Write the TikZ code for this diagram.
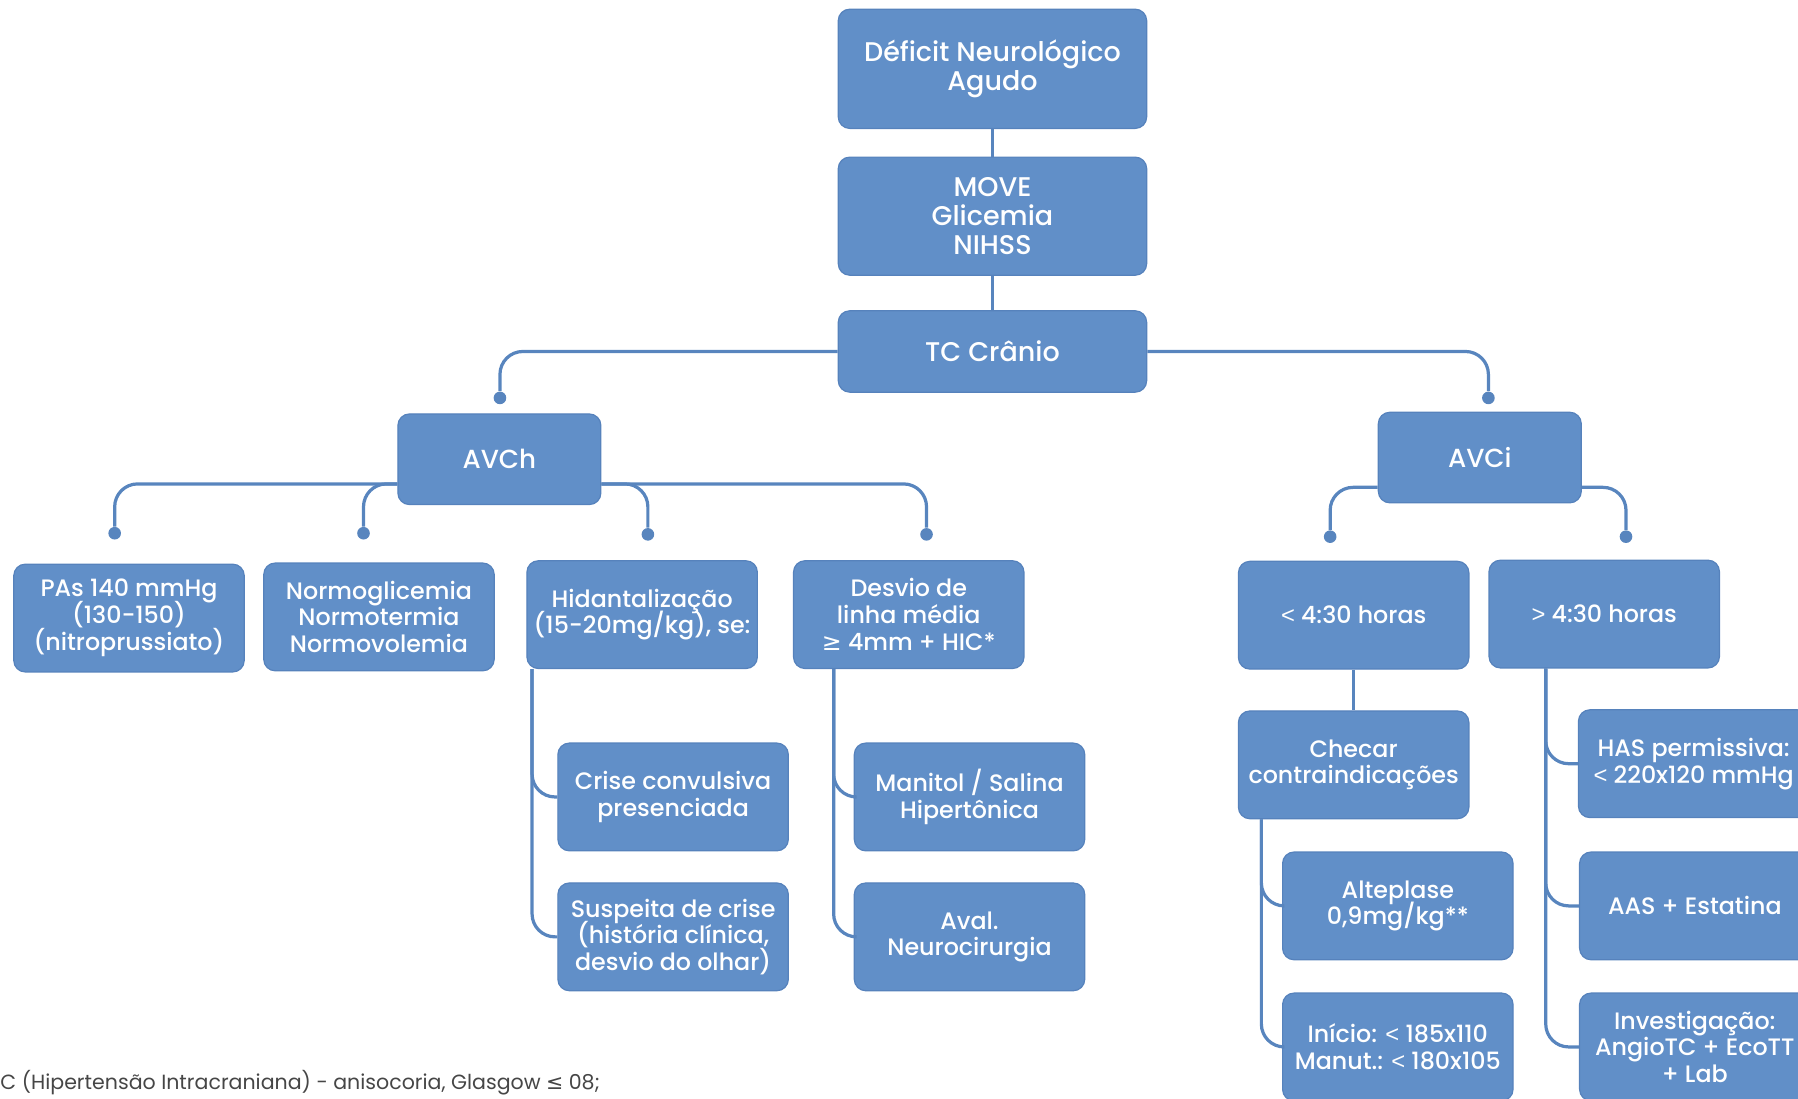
\documentclass[tikz,border=0pt]{standalone}
\usepackage{fontspec}
\setmainfont{Poppins}
\newfontfamily\boxfont{Poppins Medium}
\newfontfamily\symf{DejaVu Sans}
\newfontfamily\cmpfont{Liberation Sans}
\usetikzlibrary{calc}
% keep line distances fixed even with tall parentheses
\lineskiplimit=-20pt\relax
% comparison signs with full-size glyphs
\newcommand\lessthan{{\cmpfont <}}
\newcommand\morethan{{\cmpfont >}}

\definecolor{boxblue}{RGB}{97,143,200}
\definecolor{boxedge}{RGB}{86,130,188}
\definecolor{linkblue}{RGB}{88,133,190}
\definecolor{notegray}{RGB}{70,70,70}

\tikzset{
  box/.style={draw=boxedge, line width=0.6pt, fill=boxblue, rounded corners=0.2cm,
    text=white, align=center, minimum width=4.02cm, minimum height=1.88cm,
    inner sep=2pt, font={\boxfont\fontsize{11.8}{13.3}\selectfont}},
  topbox/.style={box, minimum width=5.38cm,
    font={\boxfont\fontsize{13.4}{14.6}\selectfont}},
  typebox/.style={box, minimum width=3.54cm, minimum height=1.58cm,
    font={\boxfont\fontsize{13}{14.6}\selectfont}},
  conn/.style={draw=linkblue, line width=1.6pt, rounded corners=0.4cm},
  tip/.style={circle, fill=linkblue, inner sep=0pt, minimum size=0.22cm},
}

\begin{document}
\begin{tikzpicture}[x=0.02cm, y=-0.02cm]
\useasboundingbox (0,0) rectangle (1568,958);
\clip (0,0) rectangle (1568,958);

% main chain
\node[topbox, minimum height=2.08cm] (def) at (865.5,60) {Déficit Neurológico\\Agudo};
\node[topbox, minimum height=2.06cm] (move) at (865.5,188.5) {MOVE\\Glicemia\\NIHSS};
\node[topbox, minimum height=1.42cm] (tc) at (865.5,306.5) {TC Crânio};

% stroke types
\node[typebox] (avch) at (435.5,400.5) {AVCh};
\node[typebox] (avci) at (1290.5,399) {AVCi};

% AVCh branch
\node[box] (pas) at (112.5,539) {PAs 140 mmHg\\(130-150)\\(nitroprussiato)};
\node[box] (norm) at (330.5,538) {Normoglicemia\\Normotermia\\Normovolemia};
\node[box] (hid) at (560,536) {Hidantalização\\(15-20mg/kg), se:};
\node[box] (des) at (792.5,536) {Desvio de\\linha média\\{\symf ≥} 4mm + HIC*};
\node[box] (crise) at (587,695) {Crise convulsiva\\presenciada};
\node[box] (susp) at (587,817) {Suspeita de crise\\(história clínica,\\desvio do olhar)};
\node[box] (man) at (845.5,695) {Manitol / Salina\\Hipertônica};
\node[box] (aval) at (845.5,817) {Aval.\\Neurocirurgia};

% AVCi branch
\node[box] (lt) at (1180.5,536.5) {\lessthan{} 4:30 horas};
\node[box] (gt) at (1399,535.5) {\morethan{} 4:30 horas};
\node[box] (chk) at (1180.5,667) {Checar\\contraindicações};
\node[box] (alt) at (1219,790) {Alteplase\\0,9mg/kg**};
\node[box] (ini) at (1219,913) {Início: \lessthan{} 185x110\\Manut.: \lessthan{} 180x105};
\node[box] (has) at (1477,666) {HAS permissiva:\\\lessthan{} 220x120 mmHg};
\node[box] (aas) at (1478,790) {AAS + Estatina};
\node[box] (inv) at (1478,913) {Investigação:\\AngioTC + EcoTT\\+ Lab};

% connector end dots
\node[tip] (p1) at (436,347) {};
\node[tip] (p2) at (1298,347) {};
\node[tip] (q1) at (100,465) {};
\node[tip] (q2) at (317,465) {};
\node[tip] (q3) at (565,466) {};
\node[tip] (q4) at (808,466) {};
\node[tip] (r1) at (1160,468) {};
\node[tip] (r2) at (1418,468) {};

% levels and rails
\coordinate (ay) at (0,422);
\coordinate (iy) at (0,425);
\coordinate (hx) at (464,0);
\coordinate (dx) at (727,0);
\coordinate (cx) at (1100,0);
\coordinate (gx) at (1348,0);

% connectors
\draw[conn] (def) -- (move);
\draw[conn] (move) -- (tc);
\draw[conn] (tc.west) -| (p1);
\draw[conn] (tc.east) -| (p2);

\draw[conn] (avch.west |- ay) -| (q1);
\draw[conn] (avch.west |- ay) -| (q2);
\draw[conn] (avch.east |- ay) -| (q3);
\draw[conn] (avch.east |- ay) -| (q4);

\draw[conn] (avci.west |- iy) -| (r1);
\draw[conn] (avci.east |- iy) -| (r2);

\draw[conn] (hid.south -| hx) |- (crise.west);
\draw[conn] (hid.south -| hx) |- (susp.west);
\draw[conn] (des.south -| dx) |- (man.west);
\draw[conn] (des.south -| dx) |- (aval.west);

\draw[conn] (lt) -- (chk);
\draw[conn] (chk.south -| cx) |- (alt.west);
\draw[conn] (chk.south -| cx) |- (ini.west);
\draw[conn] (gt.south -| gx) |- (has.west);
\draw[conn] (gt.south -| gx) |- (aas.west);
\draw[conn] (gt.south -| gx) |- (inv.west);

% footnote
\node[anchor=base west, inner sep=0pt, text=notegray, font=\fontsize{10.2}{12}\selectfont] (note) at (0,950)
  {C (Hipertensão Intracraniana) - anisocoria, Glasgow {\symf ≤} 08;};
\end{tikzpicture}
\end{document}
